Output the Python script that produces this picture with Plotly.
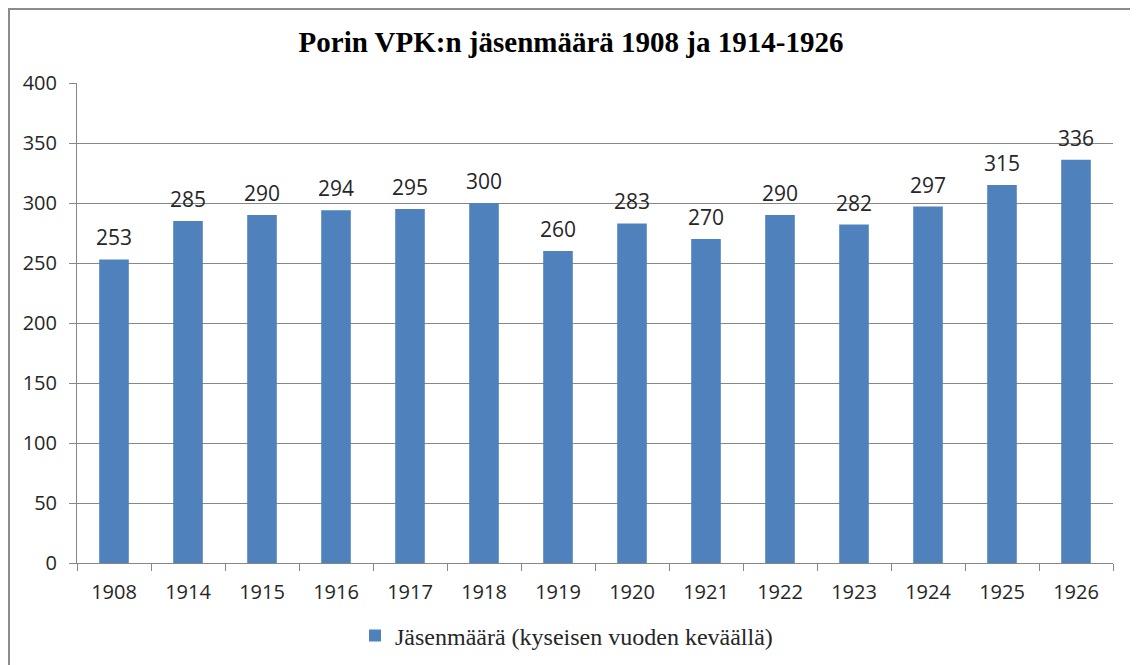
import plotly.graph_objects as go

years = ["1908", "1914", "1915", "1916", "1917", "1918", "1919",
         "1920", "1921", "1922", "1923", "1924", "1925", "1926"]
members = [253, 285, 290, 294, 295, 300, 260, 283, 270, 290, 282, 297, 315, 336]
series_name = "Jäsenmäärä (kyseisen vuoden keväällä)"
title_text = "Porin VPK:n jäsenmäärä 1908 ja 1914-1926"

# the page body has an 8px default margin, so the figure is laid out in
# page coordinates minus OFF
OFF = 8
W, H = 1138 - OFF, 665 - OFF
L, T = 77 - OFF, 83 - OFF
R = W - (1113 - OFF)
B = H - (563 - OFF)
pw, ph = W - L - R, H - T - B

def px(x):  # page x -> paper x
    return (x - OFF - L) / pw

def py(y):  # page y -> paper y
    return (H - B - (y - OFF)) / ph

tick_font = dict(family="Open Sans", size=20, color="#262626")
label_font = dict(family="Open Sans", size=21, color="#262626")

fig = go.Figure()
fig.add_trace(go.Bar(
    x=years, y=members, name=series_name,
    marker=dict(color="#4F81BD", line=dict(width=0)),
))

# data labels at the category index positions on the category axis
for i, v in enumerate(members):
    fig.add_annotation(x=i, y=v, xref="x", yref="y", text=str(v), showarrow=False,
                       yanchor="bottom", xanchor="center", yshift=6,
                       font=label_font)

fig.update_layout(
    width=W, height=H,
    margin=dict(l=L, r=R, t=T, b=B, autoexpand=False),
    paper_bgcolor="white", plot_bgcolor="white",
    bargap=0.6,
    showlegend=True,
    title=dict(text="<b>" + title_text + "</b>", x=(571 - OFF) / W, xanchor="center",
               xref="container", y=1 - (42 - OFF) / H, yanchor="middle", yref="container",
               font=dict(family="Liberation Serif", size=29, color="black")),
    legend=dict(orientation="h", x=(355 - OFF) / W, xanchor="left", xref="container",
                y=1 - (636 - OFF) / H, yanchor="middle", yref="container",
                font=dict(family="Liberation Serif", size=24, color="#262626")),
    xaxis=dict(type="category", categoryorder="array", categoryarray=years,
               range=[-0.5, len(years) - 0.5],
               showgrid=False, showline=True, linecolor="#878787", linewidth=1,
               ticks="outside", tickson="boundaries", ticklen=7, tickcolor="#878787",
               ticklabelstandoff=11, automargin=False, tickangle=0,
               tickfont=tick_font),
    yaxis=dict(range=[0, 400], dtick=50, showgrid=True, gridcolor="#878787", gridwidth=1,
               showline=True, linecolor="#878787", linewidth=1, zeroline=False,
               ticks="outside", ticklen=7, tickcolor="#878787",
               ticklabelstandoff=8, automargin=False,
               tickfont=tick_font),
)

fig.add_shape(type="rect", xref="paper", yref="paper",
              x0=px(9), x1=px(1134), y0=py(680), y1=py(9),
              line=dict(color="#8c8c8c", width=2), fillcolor="rgba(0,0,0,0)", layer="below")

fig.write_html("out.html")
